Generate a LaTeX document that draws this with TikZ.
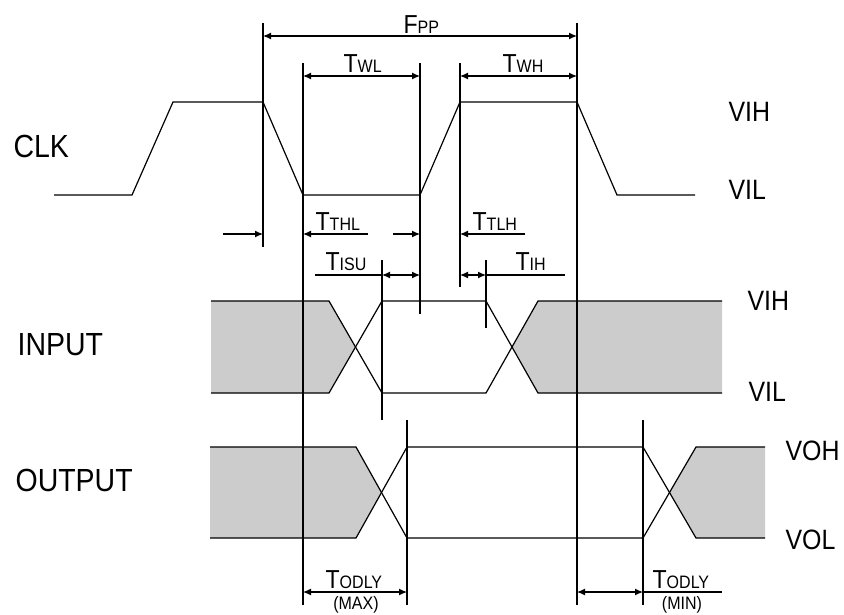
\documentclass[tikz,border=0pt]{standalone}
\usepackage{fontspec}
\setmainfont{Liberation Sans}[FakeStretch=0.89]
\usepackage{tikz}
\usetikzlibrary{arrows.meta}
\definecolor{busgray}{HTML}{CCCCCC}
% big letter plus small subscript caps, as in T_WL
\newcommand{\tname}[2]{{\fontsize{26}{26}\selectfont #1}{\fontsize{18}{18}\selectfont #2}}

\begin{document}
\begin{tikzpicture}[x=1pt,y=-1pt,line width=1.2pt,
  guide/.style={line width=1.1pt},
  dim/.style={{Latex[length=8pt,width=7pt]}-{Latex[length=8pt,width=7pt]}},
  dimr/.style={-{Latex[length=8pt,width=7pt]}},
  sig/.style={inner sep=0pt,anchor=west,font=\fontsize{32}{32}\selectfont},
  lvl/.style={inner sep=0pt,anchor=west,font=\fontsize{28}{28}\selectfont},
  tim/.style={inner sep=0pt,anchor=base west},
  minmax/.style={inner sep=0pt,font=\fontsize{18}{18}\selectfont},
  bus/.style={fill=busgray,draw=none}]
  \useasboundingbox (0,0) rectangle (844,614);

  % guide lines (name / x / top / bottom)
  \foreach \n/\x/\ya/\yb in {g1/263/23/247, g2/303/63/605, g3/382/260/420,
      g4/407/420/605, g5/420/63/314, g6/460/63/287, g7/486/260/328,
      g8/577/23/605, g9/643/420/605}{
    \coordinate (\n) at (\x,\ya);
    \coordinate (\n-b) at (\x,\yb);
  }
  % rows of the dimension arrows
  \coordinate (rFPP) at (0,36);
  \coordinate (rTW) at (0,76);
  \coordinate (rTT) at (0,234);
  \coordinate (rTI) at (0,275);
  \coordinate (rOD) at (0,592);
  % free ends
  \coordinate (tthlA) at (223,234);
  \coordinate (tthlB) at (368,234);
  \coordinate (ttlhA) at (393,234);
  \coordinate (ttlhB) at (525,234);
  \coordinate (tisuA) at (315,275);
  \coordinate (tihB) at (565,275);
  \coordinate (odB) at (722,592);

  % grey (don't care) parts of the buses
  \fill[bus] (211,301) -- (329,301) -- (355.5,347) -- (329,393) -- (211,393) -- cycle;
  \fill[bus] (722,301) -- (538,301) -- (512,347) -- (538,393) -- (722,393) -- cycle;
  \fill[bus] (210,447) -- (356,447) -- (381.5,492.5) -- (356,538) -- (210,538) -- cycle;
  \fill[bus] (765,447) -- (696,447) -- (669.5,492.5) -- (696,538) -- (765,538) -- cycle;

  % CLK
  \draw (54,195) -- (132,195) -- (173,102) -- (263,102) -- (303,195) -- (420,195)
    -- (460,102) -- (577,102) -- (617,195) -- (695,195);
  % INPUT
  \draw (211,301) -- (329,301) -- (382,393) -- (486,393) -- (538,301) -- (722,301);
  \draw (211,393) -- (329,393) -- (382,301) -- (486,301) -- (538,393) -- (722,393);
  % OUTPUT
  \draw (210,447) -- (356,447) -- (407,538) -- (643,538) -- (696,447) -- (765,447);
  \draw (210,538) -- (356,538) -- (407,447) -- (643,447) -- (696,538) -- (765,538);

  \foreach \n in {g1,g2,g3,g4,g5,g6,g7,g8,g9}
    \draw[guide] (\n) -- (\n-b);

  % dimensions
  \draw[dim] (g1 |- rFPP) -- (g8 |- rFPP);
  \draw[dim] (g2 |- rTW) -- (g5 |- rTW);
  \draw[dim] (g6 |- rTW) -- (g8 |- rTW);
  \draw[dimr] (tthlA) -- (g1 |- rTT);
  \draw[dimr] (tthlB) -- (g2 |- rTT);
  \draw[dimr] (ttlhA) -- (g5 |- rTT);
  \draw[dimr] (ttlhB) -- (g6 |- rTT);
  \draw (tisuA) -- (g3 |- rTI);
  \draw[dim] (g3 |- rTI) -- (g5 |- rTI);
  \draw[dim] (g6 |- rTI) -- (g7 |- rTI);
  \draw (g7 |- rTI) -- (tihB);
  \draw[dim] (g2 |- rOD) -- (g4 |- rOD);
  \draw[dim] (g8 |- rOD) -- (g9 |- rOD);
  \draw (g9 |- rOD) -- (odB);

  % labels
  \node[sig] (clk) at (13,146.5) {CLK};
  \node[sig] (inp) at (17,345) {INPUT};
  \node[sig] (outp) at (15,480) {OUTPUT};
  \node[lvl] (clkH) at (728,112) {VIH};
  \node[lvl] (clkL) at (728,190) {VIL};
  \node[lvl] (inH) at (747,301) {VIH};
  \node[lvl] (inL) at (748,392) {VIL};
  \node[lvl] (outH) at (785,451) {VOH};
  \node[lvl] (outL) at (785,540) {VOL};

  \node[tim] (lFPP) at (403,33) {\tname{F}{PP}};
  \node[tim] (lTWL) at (343,72) {\tname{T}{WL}};
  \node[tim] (lTWH) at (502,72) {\tname{T}{WH}};
  \node[tim] (lTTHL) at (315,230) {\tname{T}{THL}};
  \node[tim] (lTTLH) at (472,230) {\tname{T}{TLH}};
  \node[tim] (lTISU) at (325,270) {\tname{T}{ISU}};
  \node[tim] (lTIH) at (515,270) {\tname{T}{IH}};
  \node[tim] (lODmax) at (325,588) {\tname{T}{ODLY}};
  \node[minmax] (lMAX) at (356,605) {(MAX)};
  \node[tim] (lODmin) at (652,588) {\tname{T}{ODLY}};
  \node[minmax] (lMIN) at (682,605) {(MIN)};
\end{tikzpicture}
\end{document}
